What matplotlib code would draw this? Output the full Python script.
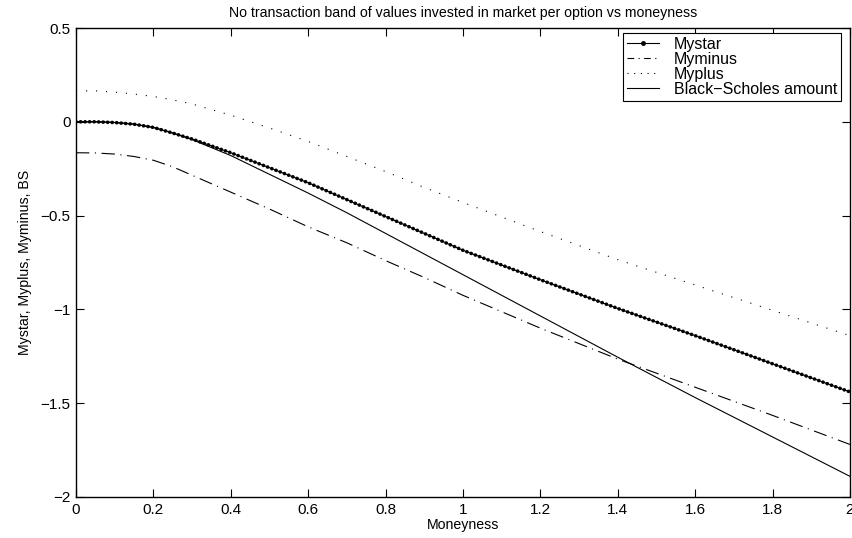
import matplotlib
matplotlib.use("Agg")
import matplotlib.pyplot as plt
from matplotlib.lines import Line2D

plt.rcParams['font.family'] = ['Liberation Sans', 'DejaVu Sans']

# Moneyness grid and band values
moneyness = [0.0, 0.05, 0.1, 0.15, 0.2, 0.25, 0.3, 0.4, 0.5, 0.6, 0.7,
             0.8, 0.9, 1.0, 1.2, 1.4, 1.6, 1.8, 2.0]
mystar = [0.0, 0.0, -0.004, -0.013, -0.03, -0.06, -0.092, -0.165, -0.245,
          -0.325, -0.415, -0.505, -0.595, -0.685, -0.842, -0.995, -1.14,
          -1.29, -1.44]
myminus = [-0.165, -0.166, -0.172, -0.185, -0.205, -0.24, -0.285, -0.375,
           -0.465, -0.56, -0.645, -0.74, -0.83, -0.925, -1.1, -1.265,
           -1.415, -1.565, -1.72]
myplus = [0.165, 0.165, 0.158, 0.148, 0.135, 0.117, 0.095, 0.035, -0.033,
          -0.105, -0.185, -0.265, -0.35, -0.43, -0.585, -0.735, -0.87,
          -1.005, -1.14]
bs_amount = [0.0, 0.0, -0.003, -0.012, -0.03, -0.06, -0.095, -0.18, -0.28,
             -0.38, -0.485, -0.595, -0.705, -0.815, -1.035, -1.255, -1.47,
             -1.68, -1.89]

xticks = [0, 0.2, 0.4, 0.6, 0.8, 1, 1.2, 1.4, 1.6, 1.8, 2]
xticklabels = ['0', '0.2', '0.4', '0.6', '0.8', '1', '1.2', '1.4', '1.6', '1.8', '2']
yticks = [-2, -1.5, -1, -0.5, 0, 0.5]
yticklabels = ['\u22122', '\u22121.5', '\u22121', '\u22120.5', '0', '0.5']

fig = plt.figure(figsize=(8.53, 5.38), dpi=100)
ax = fig.add_axes([76 / 853, 1 - 497 / 538, (850 - 76) / 853, (497 - 28) / 538])

lw = 0.8
dashdot = (0, (12, 5, 1, 5))
dotted = (0, (1, 8))

# Mystar: thin line with densely packed dot markers
ax.plot(moneyness, mystar, color='k', lw=lw, solid_capstyle='butt')
ax.plot(moneyness, mystar, color='k', lw=2.6, linestyle=(0, (0.05, 1.2)),
        dash_capstyle='round')
ax.plot(moneyness, myminus, color='k', lw=lw, linestyle=dashdot)
ax.plot(moneyness, myplus, color='k', lw=lw, linestyle=dotted)
ax.plot(moneyness, bs_amount, color='k', lw=lw)

ax.set_xlim(0, 2)
ax.set_ylim(-2, 0.5)
ax.set_xticks(xticks)
ax.set_xticklabels(xticklabels)
ax.set_yticks(yticks)
ax.set_yticklabels(yticklabels)
ax.tick_params(direction='in', length=6, width=0.8, top=True, right=True,
               labelsize=11, pad=4)
for sp in ax.spines.values():
    sp.set_linewidth(1.0)

ax.set_title('No transaction band of values invested in market per option vs moneyness',
             fontsize=10.2, pad=8)
ax.set_xlabel('Moneyness', fontsize=10.2, labelpad=1)
ax.set_ylabel('Mystar, Myplus, Myminus, BS', fontsize=10.2, labelpad=6)

handles = [
    Line2D([], [], color='k', lw=lw, marker='.', markersize=5),
    Line2D([], [], color='k', lw=lw, linestyle=(0, (6, 4, 1, 4))),
    Line2D([], [], color='k', lw=lw, linestyle=(0, (1, 5))),
    Line2D([], [], color='k', lw=lw),
]
labels = ['Mystar', 'Myminus', 'Myplus', 'Black\u2212Scholes amount']
leg = ax.legend(handles, labels, loc='upper right',
                bbox_to_anchor=(841 / 853, 1 - 33 / 538),
                bbox_transform=fig.transFigure, fontsize=11.5, frameon=True,
                fancybox=False, edgecolor='k', framealpha=1,
                handlelength=2.0, handletextpad=0.9, borderpad=0.25,
                labelspacing=0.0, borderaxespad=0)
leg.get_frame().set_linewidth(0.8)

fig.savefig('out.png', dpi=100)
